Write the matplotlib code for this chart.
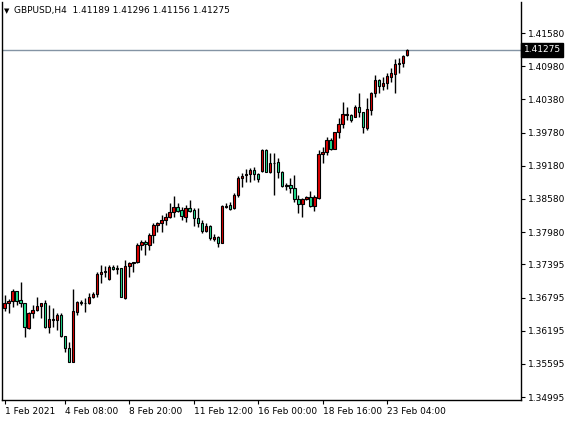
import matplotlib
matplotlib.use("Agg")
import matplotlib.pyplot as plt

opens = [1.36599,1.36690,1.36738,1.36913,1.36750,1.36690,1.36244,1.36509,1.36569,1.36642,
1.36696,1.36268,1.36388,1.36388,1.36479,1.36099,1.35876,1.35635,1.36539,1.36708,
1.36690,1.36690,1.36798,1.36853,1.37215,1.37257,1.37124,1.37341,1.37305,1.37329,
1.36792,1.37365,1.37426,1.37438,1.37745,1.37805,1.37745,1.37926,1.38107,1.38137,
1.38197,1.38246,1.38335,1.38426,1.38378,1.38257,1.38408,1.38378,1.38227,1.38137,
1.38004,1.38088,1.37853,1.37895,1.37787,1.38438,1.38462,1.38408,1.38649,1.38951,
1.39011,1.39023,1.39101,1.39029,1.39089,1.39463,1.39059,1.39222,1.39246,1.39071,
1.38812,1.38830,1.38770,1.38571,1.38480,1.38571,1.38619,1.38456,1.38589,1.39391,
1.39421,1.39644,1.39481,1.39783,1.39933,1.40096,1.40096,1.40066,1.40247,1.40144,
1.39867,1.40187,1.40488,1.40729,1.40627,1.40681,1.40790,1.40838,1.41019,1.41031,1.41189]
closes = [1.36690,1.36732,1.36913,1.36738,1.36690,1.36256,1.36509,1.36569,1.36642,1.36696,
1.36268,1.36400,1.36413,1.36479,1.36099,1.35888,1.35635,1.36551,1.36708,1.36690,
1.36702,1.36798,1.36859,1.37215,1.37257,1.37275,1.37341,1.37305,1.37329,1.36798,
1.37365,1.37413,1.37438,1.37745,1.37805,1.37757,1.37926,1.38107,1.38137,1.38197,
1.38258,1.38336,1.38438,1.38366,1.38269,1.38408,1.38366,1.38227,1.38137,1.38004,
1.38088,1.37865,1.37895,1.37787,1.38450,1.38456,1.38390,1.38649,1.38951,1.38993,
1.39029,1.39101,1.39023,1.38932,1.39463,1.39071,1.39222,1.39234,1.39071,1.38812,
1.38830,1.38770,1.38571,1.38480,1.38571,1.38619,1.38456,1.38607,1.39391,1.39421,
1.39644,1.39481,1.39783,1.39933,1.40114,1.40114,1.40006,1.40247,1.40144,1.39885,
1.40205,1.40488,1.40729,1.40627,1.40681,1.40802,1.40850,1.41019,1.41043,1.41164,1.41275]
highs = [1.36841,1.36762,1.36955,1.36913,1.37076,1.36690,1.36527,1.36660,1.36798,1.36702,
1.36750,1.36660,1.36599,1.36521,1.36509,1.36099,1.35984,1.36955,1.36738,1.36750,
1.36780,1.36871,1.36901,1.37263,1.37383,1.37365,1.37383,1.37383,1.37383,1.37329,
1.37474,1.37444,1.37444,1.37775,1.37836,1.37836,1.37956,1.38137,1.38167,1.38288,
1.38318,1.38499,1.38631,1.38498,1.38438,1.38468,1.38559,1.38408,1.38408,1.38197,
1.38137,1.38106,1.37944,1.37907,1.38468,1.38498,1.38522,1.38679,1.38993,1.39041,
1.39113,1.39131,1.39150,1.39041,1.39475,1.39475,1.39403,1.39403,1.39312,1.39089,
1.38872,1.38951,1.39011,1.38649,1.38589,1.38631,1.38727,1.38649,1.39463,1.39523,
1.39704,1.39674,1.39795,1.40036,1.40337,1.40247,1.40114,1.40277,1.40500,1.40157,
1.40398,1.40518,1.40820,1.40742,1.40790,1.40850,1.40940,1.41109,1.41121,1.41182,1.41296]
lows = [1.36557,1.36521,1.36630,1.36660,1.36630,1.36087,1.36226,1.36431,1.36557,1.36419,
1.36250,1.36159,1.36268,1.36207,1.36087,1.35816,1.35635,1.35635,1.36479,1.36660,
1.36539,1.36678,1.36780,1.36810,1.37052,1.37172,1.37112,1.37293,1.37221,1.36798,
1.36774,1.37172,1.37263,1.37413,1.37655,1.37564,1.37655,1.37775,1.37986,1.37986,
1.38107,1.38228,1.38245,1.38348,1.38197,1.38167,1.38348,1.38088,1.38064,1.37968,
1.37986,1.37835,1.37823,1.37714,1.37775,1.38408,1.38378,1.38396,1.38619,1.38800,
1.38890,1.38890,1.38920,1.38890,1.39071,1.39059,1.39041,1.38649,1.38963,1.38800,
1.38739,1.38679,1.38528,1.38329,1.38257,1.38559,1.38438,1.38366,1.38571,1.39234,
1.39373,1.39463,1.39475,1.39686,1.39855,1.40006,1.39976,1.40054,1.40066,1.39765,
1.39825,1.40096,1.40416,1.40500,1.40548,1.40561,1.40699,1.40500,1.40850,1.40959,1.41156]

x_tick_pos = [0, 15, 31, 47, 63, 79, 95]
x_tick_labels = ["1 Feb 2021", "4 Feb 08:00", "8 Feb 20:00", "11 Feb 12:00",
                 "16 Feb 00:00", "18 Feb 16:00", "23 Feb 04:00"]
y_ticks = [1.41580, 1.40980, 1.40380, 1.39780, 1.39180, 1.38580, 1.37980,
           1.37395, 1.36795, 1.36195, 1.35595, 1.34995]
last_price = 1.41275
title = "GBPUSD,H4  1.41189 1.41296 1.41156 1.41275"

W, H = 566, 422
fig = plt.figure(figsize=(W/100, H/100), dpi=100)
ax = fig.add_axes([1.5/W, 22/H, 519.5/W, 398/H])
ax.set_xlim(-0.75, 128.3)
ax.set_ylim(1.34941, 1.42141)

red, green = "#e00000", "#20e090"
idx = list(range(len(opens)))
ax.vlines(idx, lows, highs, color="black", lw=1, zorder=2)
cols = [red if c >= o else green for o, c in zip(opens, closes)]
bottoms = [min(o, c) for o, c in zip(opens, closes)]
heights = [max(abs(c - o), 0.00004) for o, c in zip(opens, closes)]
ax.bar(idx, heights, bottom=bottoms, width=0.6, color=cols, edgecolor="black",
       linewidth=0.8, zorder=3)

ax.axhline(last_price, color="#8494a4", lw=1, zorder=1)

for s in ax.spines.values():
    s.set_color("black")
    s.set_linewidth(1)
ax.spines["top"].set_visible(False)

ax.yaxis.tick_right()
ax.set_yticks(y_ticks)
ax.set_yticklabels([f"{v:.5f}" for v in y_ticks], fontsize=6.5)
ax.tick_params(axis="y", length=3, pad=2, direction="out")
ax.set_xticks(x_tick_pos)
ax.set_xticklabels(x_tick_labels, fontsize=6.5, ha="left")
ax.tick_params(axis="x", length=3, pad=2)

ax.text(1.005, last_price, f"{last_price:.5f}", transform=ax.get_yaxis_transform(),
        fontsize=6.5, color="white", va="center", ha="left",
        bbox=dict(boxstyle="square,pad=0.25", fc="black", ec="black"), zorder=5)

fig.text(4/W, 1 - 11/H, "▼", fontsize=5, va="center", ha="left")
fig.text(14/W, 1 - 11/H, title, fontsize=6.5, va="center", ha="left")

fig.savefig("out.png", dpi=100)
